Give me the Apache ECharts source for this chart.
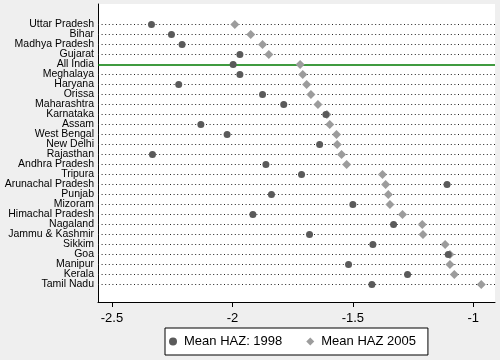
<!DOCTYPE html>
<html>
<head>
<meta charset="utf-8">
<script src="https://cdn.jsdelivr.net/npm/echarts@6/dist/echarts.min.js"></script>
<style>html,body{margin:0;padding:0;background:#efefef;}#c{width:500px;height:360px;}</style>
</head>
<body>
<div id="c"></div>
<script>
const categories = ["Uttar Pradesh","Bihar","Madhya Pradesh","Gujarat","All India","Meghalaya","Haryana","Orissa","Maharashtra","Karnataka","Assam","West Bengal","New Delhi","Rajasthan","Andhra Pradesh","Tripura","Arunachal Pradesh","Punjab","Mizoram","Himachal Pradesh","Nagaland","Jammu & Kashmir","Sikkim","Goa","Manipur","Kerala","Tamil Nadu"];
const haz1998 = [-2.336,-2.253,-2.209,-1.969,-1.997,-1.969,-2.223,-1.875,-1.787,-1.612,-2.131,-2.022,-1.638,-2.332,-1.861,-1.713,-1.109,-1.838,-1.500,-1.915,-1.331,-1.680,-1.417,-1.104,-1.518,-1.273,-1.421];
const haz2005 = [-1.990,-1.924,-1.875,-1.849,-1.719,-1.708,-1.692,-1.674,-1.645,-1.608,-1.596,-1.568,-1.565,-1.547,-1.526,-1.377,-1.364,-1.353,-1.346,-1.294,-1.212,-1.209,-1.117,-1.097,-1.097,-1.079,-0.967];
const xTicks = [-2.5,-2,-1.5,-1];
const highlightRow = "All India";

const chart = echarts.init(document.getElementById('c'));
const font = "'Liberation Sans', Arial, sans-serif";
chart.setOption({
  backgroundColor: '#efefef',
  animation: false,
  grid: [
    {left: 98, top: 4, right: 5, bottom: 58, backgroundColor: '#ffffff', show: true, borderWidth: 0},
    {left: 98, top: 19.5, right: 5, bottom: 70.5, show: false}
  ],
  xAxis: [{
    type: 'value', min: -2.558, max: -0.91, gridIndex: 0,
    axisLine: {show: true, onZero: false, lineStyle: {color: '#000', width: 1}},
    axisTick: {show: true, length: 5, lineStyle: {color: '#000'}, customValues: xTicks},
    axisLabel: {color: '#000', fontSize: 13, fontFamily: font, margin: 10, customValues: xTicks,
      formatter: v => String(v)},
    splitLine: {show: false}
  }, {
    type: 'value', gridIndex: 1, show: false
  }],
  yAxis: [{
    type: 'value', inverse: true, min: -2.05, max: 27.75, gridIndex: 0,
    axisLine: {show: true, onZero: false, lineStyle: {color: '#000', width: 1}},
    axisTick: {show: false},
    splitLine: {show: false},
    axisLabel: {show: false}
  }, {
    type: 'category', data: categories, inverse: true, gridIndex: 1,
    axisLine: {show: false}, axisTick: {show: false}, splitLine: {show: false},
    axisLabel: {color: '#000', fontSize: 10.5, fontFamily: font, margin: 4, interval: 0}
  }],
  legend: {
    left: 165, top: 328, orient: 'horizontal',
    backgroundColor: '#fff', borderColor: '#000', borderWidth: 1, borderRadius: 0,
    padding: [7, 12, 7, 4], itemGap: 24, itemWidth: 8, itemHeight: 8,
    textStyle: {color: '#000', fontSize: 13, fontFamily: font, padding: [0,0,0,2]},
    data: [{name: 'Mean HAZ: 1998', icon: 'circle'}, {name: 'Mean HAZ 2005', icon: 'diamond'}]
  },
  series: [
    {
      name: 'Mean HAZ 2005', type: 'scatter', symbol: 'diamond', symbolSize: 9,
      xAxisIndex: 0, yAxisIndex: 0,
      itemStyle: {color: '#9c9c9c', opacity: 1},
      data: haz2005.map((v, i) => [v, i]), z: 3,
      markLine: {
        silent: true, symbol: ['none','none'], label: {show: false}, animation: false,
        data: categories.map((c, i) => ({
          yAxis: i,
          lineStyle: c === highlightRow
            ? {color: '#007a00', width: 1.5, type: 'solid'}
            : {color: '#222', width: 1, type: [1, 2.6]}
        })),
        z: 1
      }
    },
    {
      name: 'Mean HAZ: 1998', type: 'scatter', symbol: 'circle', symbolSize: 7,
      xAxisIndex: 0, yAxisIndex: 0,
      itemStyle: {color: '#5a5a5a', opacity: 1},
      data: haz1998.map((v, i) => [v, i]), z: 4
    }
  ]
});
</script>
</body>
</html>
